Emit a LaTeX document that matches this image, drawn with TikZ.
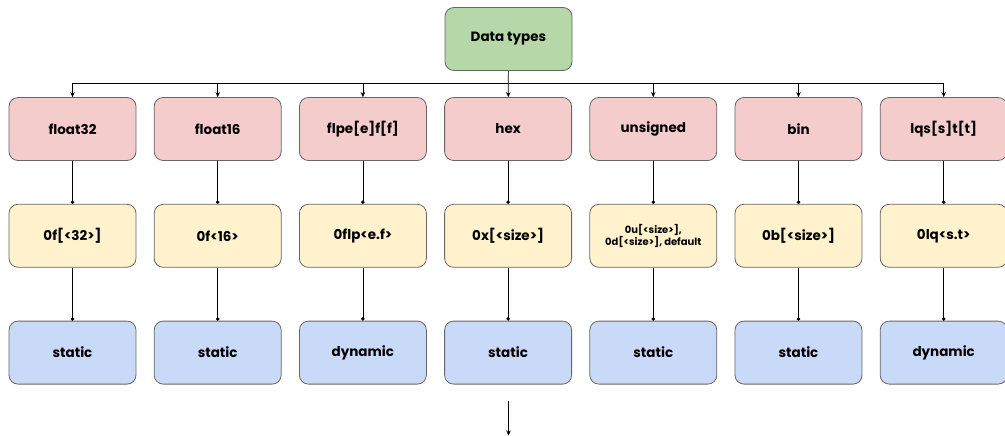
\documentclass[tikz,border=0pt]{standalone}
\usepackage{fontspec}
\setmainfont{Poppins}
\usetikzlibrary{arrows.meta,positioning}
\definecolor{rootgreen}{HTML}{B6D7A8}
\definecolor{namered}{HTML}{F4CCCC}
\definecolor{lityellow}{HTML}{FFF2CC}
\definecolor{kindblue}{HTML}{C9DAF8}
\definecolor{boxline}{HTML}{666666}
\begin{document}
\begin{tikzpicture}[x=1pt,y=-1pt,>={Stealth[length=5pt,width=4.5pt]},node distance=17.4pt,
  box/.style={draw=boxline,line width=0.8pt,rounded corners=9pt,minimum width=127pt,minimum height=63pt,align=center,font=\bfseries\fontsize{13.5}{16}\selectfont},
  namebox/.style={box,fill=namered},
  litbox/.style={box,fill=lityellow},
  kindbox/.style={box,fill=kindblue},
  dotline/.style={-{Circle[length=3.5pt]},line width=0.7pt},
  arrline/.style={->,line width=0.7pt}]
\useasboundingbox (0,0) rectangle (1005,436);
\node[box,fill=rootgreen] (root) at (508.5,39) {Data types};
% names
\node[namebox] (f32) at (72.5,129) {float32};
\node[namebox,right=of f32] (f16) {float16};
\node[namebox,right=of f16] (flp) {flpe[e]f[f]};
\node[namebox,right=of flp] (hex) {hex};
\node[namebox,right=of hex] (uns) {unsigned};
\node[namebox,right=of uns] (bin) {bin};
\node[namebox,right=of bin] (lqs) {lqs[s]t[t]};
% literals
\node[litbox,below=43pt of f32] (f32lit) {0f[<32>]};
\node[litbox,below=43pt of f16] (f16lit) {0f<16>};
\node[litbox,below=43pt of flp] (flplit) {0flp<e.f>};
\node[litbox,below=43pt of hex] (hexlit) {0x[<size>]};
\node[litbox,below=43pt of uns,font=\bfseries\fontsize{10}{12}\selectfont] (unslit) {0u[<size>],\\0d[<size>], default};
\node[litbox,below=43pt of bin] (binlit) {0b[<size>]};
\node[litbox,below=43pt of lqs] (lqslit) {0lq<s.t>};
% kinds
\node[kindbox,below=53pt of f32lit] (f32kind) {static};
\node[kindbox,below=53pt of f16lit] (f16kind) {static};
\node[kindbox,below=53pt of flplit] (flpkind) {dynamic};
\node[kindbox,below=53pt of hexlit] (hexkind) {static};
\node[kindbox,below=53pt of unslit] (unskind) {static};
\node[kindbox,below=53pt of binlit] (binkind) {static};
\node[kindbox,below=53pt of lqslit] (lqskind) {dynamic};
% bus
\coordinate (bus) at (508.5,83.5);
\draw[line width=0.7pt] (bus -| f32) -- (bus -| lqs);
\draw[arrline] (root) -- (hex);
\foreach \t in {f32,f16,flp,uns,bin,lqs}
  \draw[arrline] (bus -| \t) -- (\t);
\foreach \t in {f32,f16,flp,hex,uns,bin,lqs} {
  \draw[dotline] (\t) -- (\t lit);
  \draw[dotline] (\t lit) -- (\t kind);
}
% out
\coordinate (outtop) at (508.5,401);
\coordinate (outend) at (508.5,435.5);
\draw[arrline] (outtop) -- (outend);
\end{tikzpicture}
\end{document}
